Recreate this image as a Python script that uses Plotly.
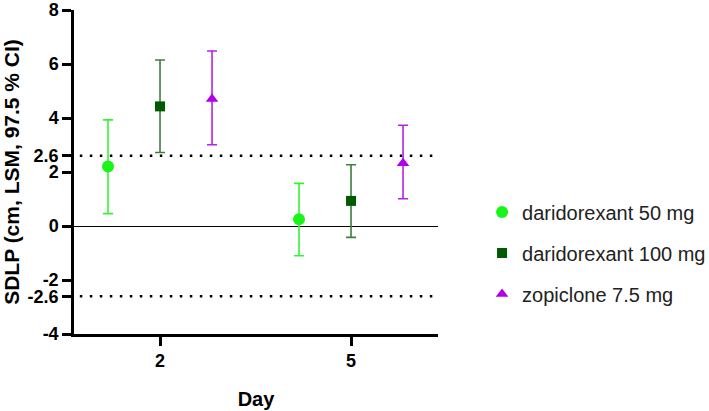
import plotly.graph_objects as go

days = [2, 5]
series_names = ["daridorexant 50 mg", "daridorexant 100 mg", "zopiclone 7.5 mg"]
lsm_50 = [2.20, 0.25]
lo_50 = [0.46, -1.10]
hi_50 = [3.93, 1.58]
lsm_100 = [4.43, 0.93]
lo_100 = [2.72, -0.42]
hi_100 = [6.15, 2.27]
lsm_zop = [4.70, 2.32]
lo_zop = [3.01, 1.01]
hi_zop = [6.48, 3.73]
threshold = 2.6
ytick_vals = [-4, -2.6, -2, 0, 2, 2.6, 4, 6, 8]

# styles
offsets = [-0.817, 0.0, 0.817]
marker_colors = ["#19f519", "#005a00", "#b000e8"]
bar_colors = ["#33f533", "#3f7f3f", "#b522e8"]
symbols = ["circle", "square", "triangle-up"]
sizes = [12, 10, 11]

data = [(lsm_50, lo_50, hi_50), (lsm_100, lo_100, hi_100), (lsm_zop, lo_zop, hi_zop)]

fig = go.Figure()
for i, (name, (m, lo, hi)) in enumerate(zip(series_names, data)):
    fig.add_trace(go.Scatter(
        x=[d + offsets[i] for d in days],
        y=m,
        mode="markers",
        name=name,
        legendgroup=name,
        marker=dict(symbol=symbols[i], size=sizes[i], color=marker_colors[i]),
        error_y=dict(type="data", symmetric=False,
                     array=[h - v for h, v in zip(hi, m)],
                     arrayminus=[v - l for v, l in zip(m, lo)],
                     color=bar_colors[i], thickness=1.6, width=5),
    ))

for yv in [threshold, -threshold]:
    fig.add_shape(type="line", xref="paper", yref="y", x0=0.016, x1=0.986,
                  y0=yv, y1=yv, line=dict(color="black", width=2.5, dash="2.5px,7.5px"),
                  layer="below")

font_family = "Liberation Sans, Arial, sans-serif"
fig.update_layout(
    width=709, height=411,
    margin=dict(l=74, r=271, t=10, b=77, autoexpand=False),
    plot_bgcolor="white", paper_bgcolor="white",
    font=dict(family=font_family, color="black"),
    showlegend=True,
    legend=dict(x=1.121, y=0.25, yanchor="middle", xanchor="left",
                font=dict(size=20, color="#222"), tracegroupgap=12,
                bgcolor="rgba(0,0,0,0)"),
    xaxis=dict(range=[0.649, 6.366], tickvals=days, ticktext=[str(d) for d in days],
               automargin=False,
               showline=True, linecolor="black", linewidth=2.5,
               ticks="outside", ticklen=9, tickwidth=2.5, tickcolor="black",
               showgrid=False, zeroline=False,
               tickfont=dict(size=18, family=font_family, weight="bold"),
               title=dict(text="<b>Day</b>", font=dict(size=20), standoff=22)),
    yaxis=dict(range=[-4, 8], tickvals=ytick_vals,
               ticktext=[("%g" % v) for v in ytick_vals],
               automargin=False,
               showline=True, linecolor="black", linewidth=2.5,
               ticks="outside", ticklen=9, tickwidth=2.5, tickcolor="black",
               showgrid=False, zeroline=True, zerolinecolor="black", zerolinewidth=1.3,
               tickfont=dict(size=18, family=font_family, weight="bold"),
               title=dict(text="<b>SDLP (cm, LSM, 97.5 % CI)</b>", font=dict(size=21), standoff=3)),
)

fig.write_html("out.html", config={"displayModeBar": False},
               post_script="document.body.style.margin='0';")
